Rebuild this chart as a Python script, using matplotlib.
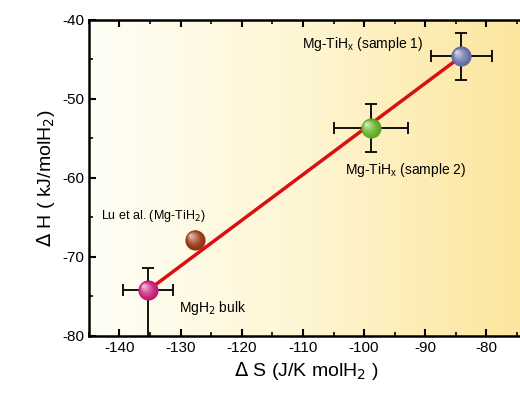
import numpy as np
import matplotlib as mpl
import matplotlib.pyplot as plt
from matplotlib.colors import LinearSegmentedColormap

mpl.rc('font', family=['Liberation Sans', 'DejaVu Sans'], size=11)
mpl.rc('axes', unicode_minus=False)
mpl.rc('xtick', direction='in', top=True)
mpl.rc('ytick', direction='in')
mpl.rc('xtick.major', width=1.5, size=5)
mpl.rc('ytick.major', width=1.5, size=5)
mpl.rc('xtick.minor', width=1.2, size=3, visible=True)
mpl.rc('ytick.minor', width=1.2, size=3, visible=True)

# data
labels = ['Mg-TiH$\\mathregular{_x}$ (sample 1)', 'Mg-TiH$\\mathregular{_x}$ (sample 2)', 'MgH$_2$ bulk']
dS = [-84.1, -98.9, -135.3]
dH = [-44.6, -53.7, -74.2]
dS_err = [5.0, 6.0, 4.1]
dH_err_low = [3.0, 3.0, 6.0]
dH_err_high = [3.0, 3.0, 2.8]
colors = ['#6f7cbc', '#6cc426', '#e01e84']

lu_dS = -127.6
lu_dH = -67.8
lu_color = '#a83c12'

fig = plt.figure(figsize=(5.2, 3.99), dpi=100)
ax = fig.add_axes([0.171, 0.158, 0.835, 0.792])
ax.set_xlim(-145, -74)
ax.set_ylim(-80, -40)

# pale to yellow background
bg = LinearSegmentedColormap.from_list('bg', ['#fffef6', '#fef5d2', '#fce59c'])
grad = np.linspace(0, 1, 256).reshape(1, -1)
ax.imshow(grad, extent=[-145, -74, -80, -40], aspect='auto', cmap=bg, zorder=0)

# fit line between bulk and sample 1
ax.plot([dS[2], dS[0]], [dH[2], dH[0]], color='#d81010', lw=2.5, zorder=2)

ax.errorbar(dS, dH, xerr=dS_err, yerr=[dH_err_low, dH_err_high], fmt='none',
            ecolor='black', elinewidth=1.3, capsize=4, capthick=1.3, zorder=3)


def ball(x, y, c, size=210):
    # shaded sphere made of stacked discs
    base = np.array(mpl.colors.to_rgb(c))
    n = 9
    for k in range(n):
        f = k / (n - 1)
        col = base * (0.85 + 0.15 * f) + (np.ones(3) - base) * 0.7 * f ** 1.5
        s = size * (1 - 0.88 * f) ** 2
        ax.scatter([x - 0.8 * f], [y + 0.55 * f], s=s,
                   color=np.clip(col, 0, 1), zorder=4 + 0.01 * k, linewidths=0)


for x, y, c in zip(dS, dH, colors):
    ball(x, y, c)
ball(lu_dS, lu_dH, lu_color)

ax.text(-110.2, -43.0, labels[0], fontsize=10, va='center', zorder=6)
ax.text(-103.2, -59.0, labels[1], fontsize=10, va='center', zorder=6)
ax.text(-130.2, -76.5, labels[2], fontsize=10, va='center', zorder=6)
ax.text(-143.0, -64.8, 'Lu et al. (Mg-TiH$_2$)', fontsize=9, va='center', zorder=6)

ax.set_xticks(np.arange(-140, -74, 10))
ax.set_xticks(np.arange(-145, -74, 5), minor=True)
ax.set_yticks(np.arange(-80, -39, 10))
ax.set_yticks(np.arange(-80, -39, 5), minor=True)
ax.tick_params(axis='y', right=False, which='both')

for side in ['left', 'bottom', 'top']:
    ax.spines[side].set_linewidth(1.8)
ax.spines['right'].set_visible(False)

ax.set_xlabel('$\\Delta$ S (J/K molH$_2$ )', fontsize=14)
ax.set_ylabel('$\\Delta$ H ( kJ/molH$_2$)', fontsize=14)

fig.savefig('out.png', dpi=100)
